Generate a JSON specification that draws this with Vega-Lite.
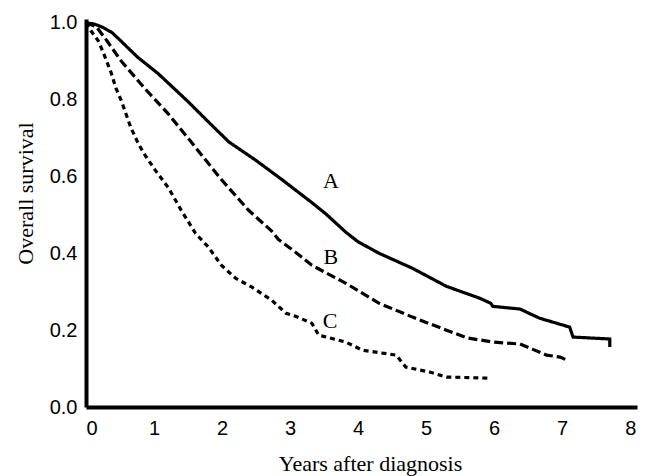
{
  "$schema": "https://vega.github.io/schema/vega-lite/v6.json",
  "width": 551,
  "height": 388,
  "autosize": {"type": "none"},
  "padding": {"left": 86, "top": 19, "right": 16, "bottom": 69},
  "background": "white",
  "config": {
    "view": {"stroke": null},
    "axis": {
      "grid": false,
      "domainColor": "black",
      "domainWidth": 4,
      "ticks": false,
      "labelFont": "Liberation Sans",
      "labelFontSize": 20,
      "labelColor": "black",
      "titleFont": "Liberation Serif",
      "titleFontSize": 22,
      "titleFontWeight": "normal",
      "titleColor": "black"
    }
  },
  "datasets": {
    "curves": [
      {"group": "A", "i": 1, "t": 0, "s": 1.0},
      {"group": "A", "i": 2, "t": 0.12, "s": 0.997},
      {"group": "A", "i": 3, "t": 0.25, "s": 0.988},
      {"group": "A", "i": 4, "t": 0.38, "s": 0.975},
      {"group": "A", "i": 5, "t": 0.5, "s": 0.955},
      {"group": "A", "i": 6, "t": 0.75, "s": 0.912},
      {"group": "A", "i": 7, "t": 1.06, "s": 0.868},
      {"group": "A", "i": 8, "t": 1.5, "s": 0.795},
      {"group": "A", "i": 9, "t": 1.8, "s": 0.742},
      {"group": "A", "i": 10, "t": 2.1, "s": 0.69},
      {"group": "A", "i": 11, "t": 2.49, "s": 0.643},
      {"group": "A", "i": 12, "t": 2.88, "s": 0.592},
      {"group": "A", "i": 13, "t": 3.1, "s": 0.562},
      {"group": "A", "i": 14, "t": 3.32, "s": 0.532},
      {"group": "A", "i": 15, "t": 3.53, "s": 0.502},
      {"group": "A", "i": 16, "t": 3.82, "s": 0.455},
      {"group": "A", "i": 17, "t": 4.0, "s": 0.43},
      {"group": "A", "i": 18, "t": 4.31, "s": 0.4},
      {"group": "A", "i": 19, "t": 4.8, "s": 0.361},
      {"group": "A", "i": 20, "t": 5.3, "s": 0.314},
      {"group": "A", "i": 21, "t": 5.79, "s": 0.283},
      {"group": "A", "i": 22, "t": 5.95, "s": 0.27},
      {"group": "A", "i": 23, "t": 5.98, "s": 0.262},
      {"group": "A", "i": 24, "t": 6.38, "s": 0.255},
      {"group": "A", "i": 25, "t": 6.67, "s": 0.231},
      {"group": "A", "i": 26, "t": 7.11, "s": 0.208},
      {"group": "A", "i": 27, "t": 7.16, "s": 0.182},
      {"group": "A", "i": 28, "t": 7.7, "s": 0.177},
      {"group": "A", "i": 29, "t": 7.7, "s": 0.156},
      {"group": "B", "i": 1, "t": 0, "s": 1.0},
      {"group": "B", "i": 2, "t": 0.15, "s": 0.99},
      {"group": "B", "i": 3, "t": 0.28, "s": 0.96},
      {"group": "B", "i": 4, "t": 0.52, "s": 0.9},
      {"group": "B", "i": 5, "t": 0.87, "s": 0.828},
      {"group": "B", "i": 6, "t": 1.2, "s": 0.765},
      {"group": "B", "i": 7, "t": 1.5, "s": 0.7},
      {"group": "B", "i": 8, "t": 1.99, "s": 0.592},
      {"group": "B", "i": 9, "t": 2.39, "s": 0.512},
      {"group": "B", "i": 10, "t": 2.73, "s": 0.458},
      {"group": "B", "i": 11, "t": 2.83, "s": 0.436},
      {"group": "B", "i": 12, "t": 3.08, "s": 0.403},
      {"group": "B", "i": 13, "t": 3.32, "s": 0.369},
      {"group": "B", "i": 14, "t": 3.82, "s": 0.322},
      {"group": "B", "i": 15, "t": 4.31, "s": 0.27},
      {"group": "B", "i": 16, "t": 4.8, "s": 0.234},
      {"group": "B", "i": 17, "t": 5.3, "s": 0.2},
      {"group": "B", "i": 18, "t": 5.6, "s": 0.18},
      {"group": "B", "i": 19, "t": 5.98, "s": 0.169},
      {"group": "B", "i": 20, "t": 6.38, "s": 0.164},
      {"group": "B", "i": 21, "t": 6.57, "s": 0.15},
      {"group": "B", "i": 22, "t": 6.77, "s": 0.135},
      {"group": "B", "i": 23, "t": 6.97, "s": 0.13},
      {"group": "B", "i": 24, "t": 7.07, "s": 0.122},
      {"group": "C", "i": 1, "t": 0, "s": 1.0},
      {"group": "C", "i": 2, "t": 0.07, "s": 0.98},
      {"group": "C", "i": 3, "t": 0.18, "s": 0.953},
      {"group": "C", "i": 4, "t": 0.26, "s": 0.92},
      {"group": "C", "i": 5, "t": 0.37, "s": 0.87},
      {"group": "C", "i": 6, "t": 0.44, "s": 0.83},
      {"group": "C", "i": 7, "t": 0.52, "s": 0.797},
      {"group": "C", "i": 8, "t": 0.66, "s": 0.727},
      {"group": "C", "i": 9, "t": 0.77, "s": 0.685},
      {"group": "C", "i": 10, "t": 0.87, "s": 0.655},
      {"group": "C", "i": 11, "t": 1.02, "s": 0.616},
      {"group": "C", "i": 12, "t": 1.21, "s": 0.571},
      {"group": "C", "i": 13, "t": 1.4, "s": 0.512},
      {"group": "C", "i": 14, "t": 1.61, "s": 0.452},
      {"group": "C", "i": 15, "t": 1.8, "s": 0.416},
      {"group": "C", "i": 16, "t": 1.99, "s": 0.369},
      {"group": "C", "i": 17, "t": 2.2, "s": 0.335},
      {"group": "C", "i": 18, "t": 2.44, "s": 0.312},
      {"group": "C", "i": 19, "t": 2.73, "s": 0.278},
      {"group": "C", "i": 20, "t": 2.94, "s": 0.244},
      {"group": "C", "i": 21, "t": 3.08, "s": 0.236},
      {"group": "C", "i": 22, "t": 3.32, "s": 0.218},
      {"group": "C", "i": 23, "t": 3.42, "s": 0.187},
      {"group": "C", "i": 24, "t": 3.82, "s": 0.169},
      {"group": "C", "i": 25, "t": 4.06, "s": 0.148},
      {"group": "C", "i": 26, "t": 4.56, "s": 0.135},
      {"group": "C", "i": 27, "t": 4.7, "s": 0.104},
      {"group": "C", "i": 28, "t": 5.05, "s": 0.091},
      {"group": "C", "i": 29, "t": 5.3, "s": 0.078},
      {"group": "C", "i": 30, "t": 5.93, "s": 0.075}
    ],
    "labels": [
      {"label": "A", "t": 3.6, "s": 0.588},
      {"label": "B", "t": 3.6, "s": 0.39},
      {"label": "C", "t": 3.59, "s": 0.225}
    ]
  },
  "layer": [
    {
      "data": {"name": "curves"},
      "mark": {"type": "line", "strokeWidth": 3.2, "color": "black", "strokeCap": "butt"},
      "encoding": {
        "x": {
          "field": "t", "type": "quantitative",
          "scale": {"domain": [0, 8.1], "nice": false},
          "axis": {
            "values": [0, 1, 2, 3, 4, 5, 6, 7, 8],
            "format": "d",
            "labelPadding": 11,
            "title": "Years after diagnosis",
            "titleX": 284,
            "titleY": 63,
            "titleBaseline": "alphabetic"
          }
        },
        "y": {
          "field": "s", "type": "quantitative",
          "scale": {"domain": [0, 1.01], "nice": false},
          "axis": {
            "values": [0, 0.2, 0.4, 0.6, 0.8, 1.0],
            "format": ".1f",
            "labelPadding": 9,
            "title": "Overall survival",
            "titleX": -61,
            "titleY": 174,
            "titleAngle": -90,
            "titleBaseline": "middle"
          }
        },
        "strokeDash": {
          "field": "group", "type": "nominal",
          "scale": {"domain": ["A", "B", "C"], "range": [[1, 0], [9, 4], [5, 4]]},
          "legend": null
        },
        "order": {"field": "i", "type": "quantitative"}
      }
    },
    {
      "data": {"name": "labels"},
      "mark": {"type": "text", "font": "Liberation Serif", "fontSize": 22, "color": "black", "align": "center", "baseline": "middle"},
      "encoding": {
        "x": {"field": "t", "type": "quantitative"},
        "y": {"field": "s", "type": "quantitative"},
        "text": {"field": "label", "type": "nominal"}
      }
    }
  ]
}
